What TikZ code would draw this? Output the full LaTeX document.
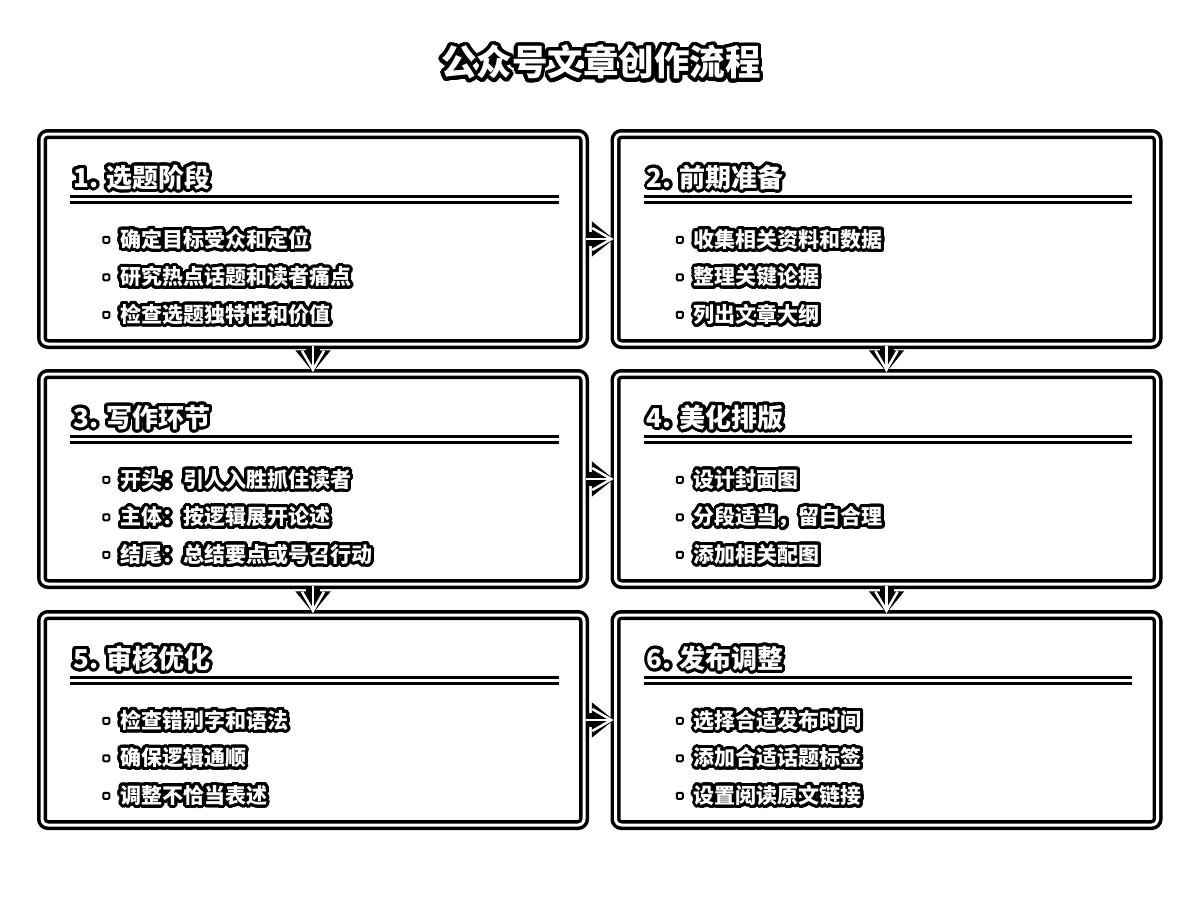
\documentclass[tikz,border=0pt]{standalone}
\usepackage{fontspec}
\setmainfont{Noto Sans CJK SC}
\usepackage{contour}
\usetikzlibrary{arrows.meta,positioning,calc}
\contournumber{32}
\newcommand{\glow}[2]{\contourlength{#1}\contour{black}{#2}}

\tikzset{
    stagebox/.style={draw=black, double=white, line width=3.5pt, double distance=3pt,
        rounded corners=6pt, minimum width=542pt, minimum height=210pt, inner sep=0pt},
    titletext/.style={text=white, inner sep=0pt, font=\bfseries\fontsize{35.5pt}{40pt}\selectfont},
    headtext/.style={text=white, inner sep=0pt, anchor=west, font=\bfseries\fontsize{26pt}{30pt}\selectfont},
    itemtext/.style={text=white, inner sep=0pt, anchor=west, font=\bfseries\fontsize{21pt}{24pt}\selectfont},
    headrule/.style={draw=black, double=white, line width=3pt, double distance=2.5pt},
    dot/.style={draw=black, fill=white, line width=2pt, minimum size=6pt, inner sep=0pt, rounded corners=1pt},
    arrowback/.style={black, line width=14pt, -{Triangle[length=22pt, width=34pt]}},
    arrowfront/.style={white, line width=2.5pt, -{Straight Barb[length=19pt, width=22pt]}}
}

\begin{document}
\begin{tikzpicture}[x=1pt, y=-1pt]
    \useasboundingbox (0,0) rectangle (1201,899);
    \node[titletext] (title) at (601,64) {\glow{3.5pt}{公众号文章创作流程}};

    \foreach \n/\px/\py/\ttl/\ia/\ib/\ic in {
        1/313/239/选题阶段/确定目标受众和定位/研究热点话题和读者痛点/检查选题独特性和价值,
        2/886.5/239/前期准备/收集相关资料和数据/整理关键论据/列出文章大纲,
        3/313/479/写作环节/开头：引人入胜抓住读者/主体：按逻辑展开论述/结尾：总结要点或号召行动,
        4/886.5/479/美化排版/设计封面图/分段适当，留白合理/添加相关配图,
        5/313/720/审核优化/检查错别字和语法/确保逻辑通顺/调整不恰当表述,
        6/886.5/720/发布调整/选择合适发布时间/添加合适话题标签/设置阅读原文链接}
    {
        \node[stagebox] (b\n) at (\px,\py) {};
        \node[headtext] (h\n) at ($(b\n.north west)+(33,46.5)$) {\glow{3pt}{\n. \ttl}};
        \draw[headrule] ($(b\n.north west)+(30,67)$) -- ($(b\n.north east)+(-27,67)$);
        \foreach \itm [count=\k] in {\ia,\ib,\ic} {
            \node[dot] (d\n-\k) at ($(b\n.north west)+(66,{107.5+(\k-1)*37.5})$) {};
            \node[itemtext] (t\n-\k) at ($(b\n.north west)+(80,{108.5+(\k-1)*37.5})$) {\glow{3pt}{\itm}};
        }
    }

    \foreach \a/\b in {b1/b2, b3/b4, b5/b6} {
        \draw[arrowback] (\a.east) -- (\b.west);
        \draw[arrowfront] (\a.east) -- (\b.west);
    }
    \foreach \a/\b in {b1/b3, b3/b5, b2/b4, b4/b6} {
        \draw[arrowback] (\a.south) -- (\b.north);
        \draw[arrowfront] (\a.south) -- (\b.north);
    }
\end{tikzpicture}
\end{document}
